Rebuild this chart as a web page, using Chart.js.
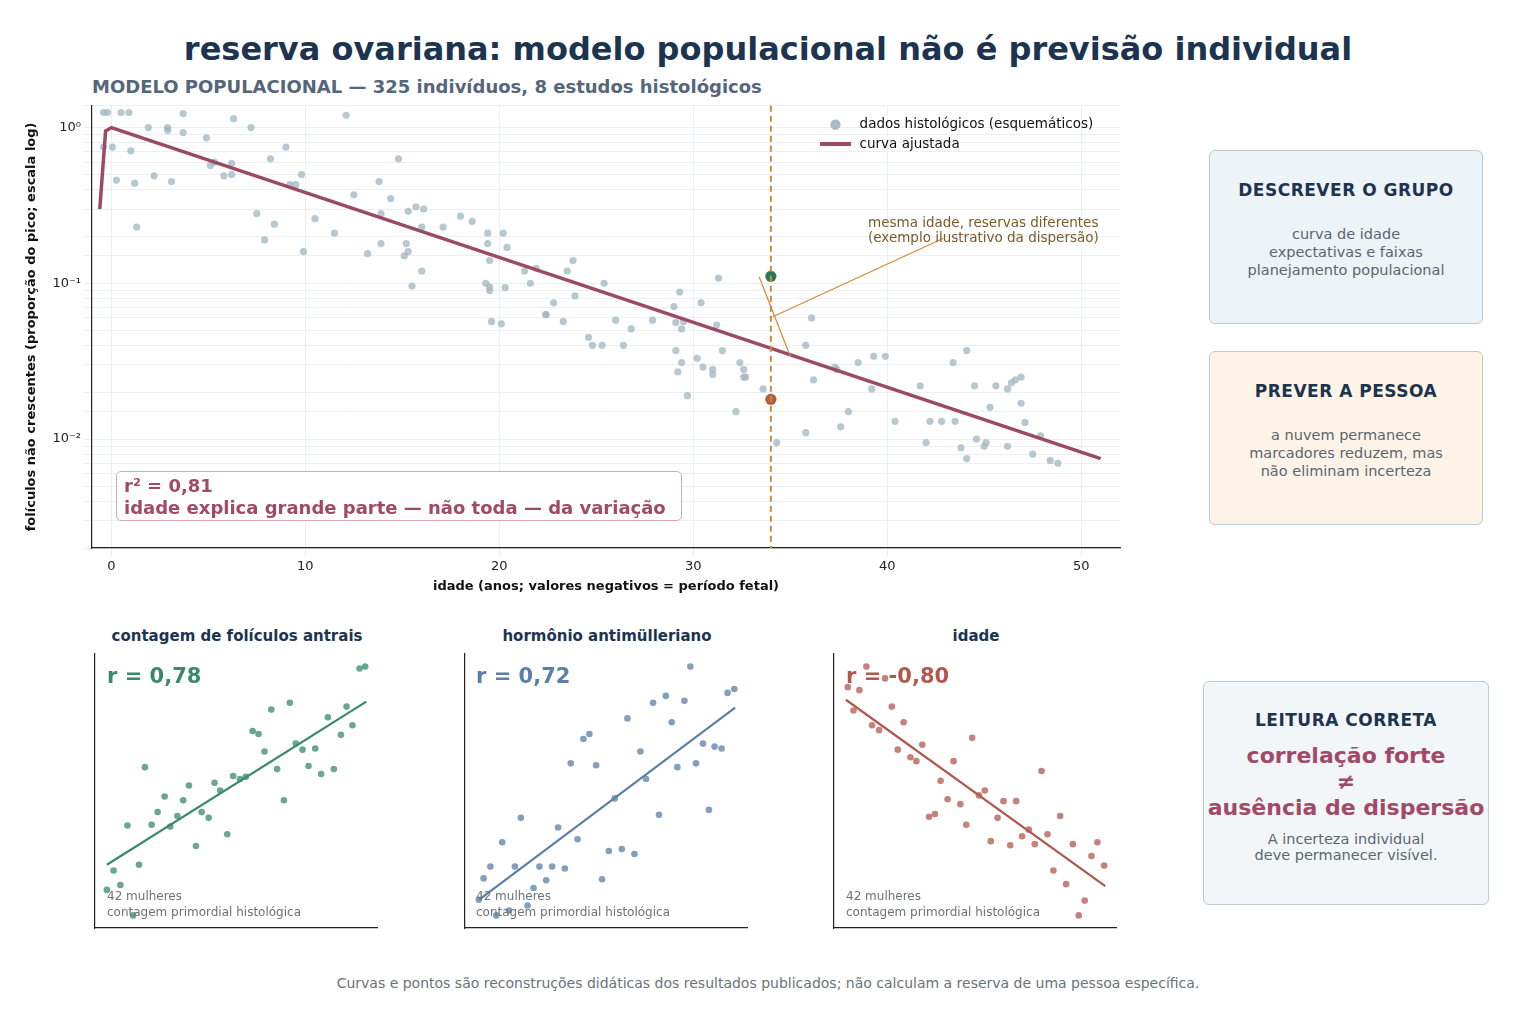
<!DOCTYPE html>
<html><head><meta charset="utf-8">
<script src="https://cdn.jsdelivr.net/npm/chart.js@4"></script>
<style>
body{margin:0;width:1536px;height:1024px;background:#fff;font-family:"DejaVu Sans",sans-serif;position:relative;overflow:hidden}
.abs{position:absolute}
.box{position:absolute;border:1.5px solid #bccbd0;border-radius:6px;text-align:center;color:#5a6670;font-size:14.5px;line-height:18px}
.box h3{margin:0;font-size:17px;color:#1c3450;letter-spacing:.5px}
.ptitle{position:absolute;font-weight:bold;font-size:15px;color:#1c3450;text-align:center;width:290px}
.pnote{position:absolute;font-size:12px;color:#6a7378;line-height:16px}
.rtxt{position:absolute;font-weight:bold;font-size:21px}
</style></head><body>
<div class="abs" style="left:0;width:1536px;top:30px;text-align:center;font-size:32px;font-weight:bold;color:#1c3450">reserva ovariana: modelo populacional não é previsão individual</div>
<div class="abs" style="left:92px;top:76px;font-size:18px;font-weight:bold;color:#55667a">MODELO POPULACIONAL — 325 indivíduos, 8 estudos histológicos</div>
<div class="abs" style="left:20px;top:95px;width:1110px;height:503px"><canvas id="main"></canvas></div>
<div class="abs" style="left:820px;top:113px;font-size:13.5px;color:#111;line-height:20px">
<div><span style="display:inline-block;width:31px;text-align:center;color:#a9bcc6">●</span> &nbsp;dados histológicos (esquemáticos)</div>
<div><span style="display:inline-block;width:31px;height:3.5px;background:#9c4a64;vertical-align:middle"></span> &nbsp;curva ajustada</div></div>
<div class="abs" style="left:868px;top:215px;font-size:13.5px;color:#7a5a2a;line-height:15px">mesma idade, reservas diferentes<br>(exemplo ilustrativo da dispersão)</div>
<div class="abs" style="left:116px;top:471px;width:566px;height:50px;border:1.5px solid #d9a8b8;border-radius:5px;background:rgba(255,255,255,.9);color:#a04a68;font-weight:bold;font-size:18px;line-height:22px;padding:3px 0 0 7px;box-sizing:border-box">r² = 0,81<br>idade explica grande parte — não toda — da variação</div>

<div class="box" style="left:1209px;top:150px;width:272px;height:172px;background:#eef3f8"><h3 style="margin-top:30px">DESCREVER O GRUPO</h3><div style="margin-top:26px">curva de idade<br>expectativas e faixas<br>planejamento populacional</div></div>
<div class="box" style="left:1209px;top:351px;width:272px;height:172px;background:#fdf3e6"><h3 style="margin-top:30px">PREVER A PESSOA</h3><div style="margin-top:26px">a nuvem permanece<br>marcadores reduzem, mas<br>não eliminam incerteza</div></div>
<div class="box" style="left:1203px;top:681px;width:284px;height:222px;background:#f3f6f8"><h3 style="margin-top:29px">LEITURA CORRETA</h3>
<div style="margin-top:14px;color:#a04a68;font-weight:bold;font-size:22px;line-height:26px">correlação forte<br>≠<br>ausência de dispersão</div>
<div style="margin-top:10px;line-height:16px">A incerteza individual<br>deve permanecer visível.</div></div>

<div class="ptitle" style="left:92px;top:627px">contagem de folículos antrais</div>
<div class="ptitle" style="left:462px;top:627px">hormônio antimülleriano</div>
<div class="ptitle" style="left:831px;top:627px">idade</div>
<div class="abs" style="left:91px;top:650px;width:290px;height:282px"><canvas id="p1"></canvas></div>
<div class="abs" style="left:461px;top:650px;width:290px;height:282px"><canvas id="p2"></canvas></div>
<div class="abs" style="left:830px;top:650px;width:290px;height:282px"><canvas id="p3"></canvas></div>
<div class="rtxt" style="left:107px;top:664px;color:#3a8a6a">r = 0,78</div>
<div class="rtxt" style="left:476px;top:664px;color:#5a7fa8">r = 0,72</div>
<div class="rtxt" style="left:846px;top:664px;color:#b0584e">r = -0,80</div>
<div class="pnote" style="left:107px;top:888px">42 mulheres<br>contagem primordial histológica</div>
<div class="pnote" style="left:476px;top:888px">42 mulheres<br>contagem primordial histológica</div>
<div class="pnote" style="left:846px;top:888px">42 mulheres<br>contagem primordial histológica</div>
<div class="abs" style="left:0;width:1536px;top:975px;text-align:center;font-size:14px;color:#6a7378">Curvas e pontos são reconstruções didáticas dos resultados publicados; não calculam a reserva de uma pessoa específica.</div>

<script>
// dados do painel principal (idade em anos, proporção do pico)
const ages = [-0.4,-0.2,0.5,0.9,-0.4,0.05,0.26,1.0,1.2,1.3,1.9,2.2,2.9,3.1,2.9,3.7,3.7,4.9,5.1,5.3,5.8,6.2,6.2,6.3,7.2,7.5,7.9,8.2,8.4,9.0,9.2,9.5,9.8,9.9,10.5,11.5,12.1,12.5,13.2,13.8,13.9,13.9,14.4,14.8,15.1,15.2,15.3,15.3,15.5,15.7,16.0,16.0,16.1,17.1,18.0,18.6,19.4,19.4,19.5,20.2,20.4,19.3,19.5,19.5,19.6,20.1,20.3,21.3,21.6,21.9,22.4,22.4,22.8,23.3,23.5,23.8,23.9,24.6,24.8,25.3,25.4,26.0,26.4,26.8,27.9,29.0,29.1,29.1,29.3,29.4,29.5,29.4,29.2,29.7,30.2,30.4,30.5,31.0,31.0,31.2,31.3,31.5,32.2,32.4,32.6,32.7,33.6,32.6,34.3,35.8,35.8,36.1,36.2,37.3,37.4,37.6,38.0,38.5,39.3,39.9,39.2,40.4,41.7,42.0,42.2,42.8,43.5,43.4,43.8,44.1,44.1,44.5,44.6,45.0,45.1,45.3,45.6,46.2,46.2,46.4,46.6,46.9,46.9,47.1,47.5,47.9,48.4,48.8];
const reserve = [1.25,1.25,1.25,1.25,0.75,0.75,0.46,0.71,0.44,0.23,1.0,0.49,1.0,0.45,0.96,0.93,1.23,0.86,0.57,0.6,0.49,0.59,0.5,1.14,1.0,0.28,0.19,0.63,0.24,0.75,0.43,0.43,0.5,0.16,0.26,0.21,1.2,0.37,0.155,0.45,0.28,0.18,0.35,0.63,0.15,0.18,0.29,0.16,0.096,0.31,0.23,0.12,0.3,0.23,0.27,0.25,0.18,0.21,0.14,0.21,0.17,0.1,0.09,0.095,0.057,0.055,0.094,0.12,0.1,0.125,0.063,0.063,0.075,0.057,0.12,0.14,0.083,0.045,0.04,0.04,0.1,0.058,0.04,0.051,0.058,0.071,0.056,0.037,0.088,0.051,0.057,0.031,0.027,0.019,0.033,0.075,0.029,0.028,0.026,0.054,0.108,0.037,0.015,0.031,0.025,0.025,0.021,0.028,0.0095,0.011,0.04,0.06,0.024,0.029,0.028,0.012,0.015,0.031,0.034,0.034,0.021,0.013,0.022,0.0095,0.013,0.013,0.013,0.031,0.0088,0.0075,0.037,0.022,0.01,0.009,0.0095,0.016,0.022,0.009,0.021,0.023,0.024,0.025,0.017,0.0128,0.008,0.0105,0.0073,0.007];
const curveAges = [-0.6,-0.3,0,51];
const curveVals = [0.3,0.95,1.0,0.0075];
const sameAge = 34;
const highLow = [0.111,0.018];
const xTicks = [0,10,20,30,40,50];
const yTickLabels = {'1':'10⁰','0.1':'10⁻¹','0.01':'10⁻²'};

// painéis de correlação (escala normalizada 0-100)
const afcX = [4.2,6.6,9,13.5,11.5,15.6,17.7,20.1,22.2,24.7,26.7,29.2,31.3,33.3,35.8,37.8,40.3,42.4,44.4,46.9,49,51.4,53.5,55.9,58,60.1,62.5,64.6,67,69.1,71.2,73.6,75.7,78.1,80.2,82.6,84.7,87.2,89.2,91.3,93.8,95.8];
const afcY = [13.9,21,15.7,4.6,37.4,23.1,58.7,37.7,42.3,48,37,40.9,46.6,52,29.9,42.3,40.2,53,50.2,34.2,55.5,54.4,55.2,71.9,70.8,64.4,79.7,58,46.6,82.2,67.3,65.1,59.1,65.5,56.2,76.9,58,70.5,80.8,74,94.7,95.4];
const afcFit = [[4.2,23.1],[96.2,82.6]];
const amhX = [6.6,9,11.1,13.2,15.6,17.7,19.8,22.2,24.3,26.4,28.8,30.9,33,35.4,37.5,39.9,42,44.1,46.5,48.6,51,53.1,55.6,57.6,60.1,62.2,64.2,66.7,68.8,71.2,73.3,75.3,77.8,79.9,81.9,84.4,86.5,88.5,91,93.1,95.5,4.9];
const amhY = [18.1,22.4,4.6,31.3,6.4,22.4,40.2,8.2,14.6,22.4,17.4,22.4,36.7,21.7,60.1,32.4,69,70.8,59.4,17.8,28.1,47.3,28.8,76.5,27,64.4,54.4,82.2,41.3,84.7,75.1,58.7,82.9,95.4,60.1,67.3,43.1,66.2,65.5,85.8,87.2,10.3];
const amhFit = [[4.9,10.3],[95.8,80.4]];
const ageX = [4.9,6.9,9,11.5,13.5,16,18.1,20.5,22.6,24.7,27.1,29.2,31.3,33.7,35.8,37.8,40.3,42.4,44.8,46.9,49,51.4,53.5,55.6,58,60.1,62.5,64.6,66.7,69.1,71.2,73.6,75.7,77.8,80.2,82.3,84.7,86.8,88.9,91.3,93.4,95.8];
const ageY = [87.9,79.4,86.8,95.4,74,72.2,91.1,80.8,65.1,75.1,62.3,60.9,66.9,40.6,41.6,53.7,47,60.9,45.2,37.7,69.4,48.4,50.2,31.7,40.2,46.3,30.2,46.3,33.5,35.9,30.6,57.3,34.2,21,40.9,16,30.6,4.6,10,26.3,31.3,22.8];
const ageFit = [[4.2,83.3],[96.2,15.3]];

Chart.defaults.font.family = '"DejaVu Sans", sans-serif';
Chart.defaults.animation = false;
const zip = (a, b) => a.map((v, i) => ({x: v, y: b[i]}));

const overlay = {
  id: 'overlay',
  afterDatasetsDraw(chart) {
    const {ctx, chartArea, scales: {x, y}} = chart;
    const px = x.getPixelForValue(sameAge);
    ctx.save();
    ctx.strokeStyle = '#d08a3a'; ctx.lineWidth = 2; ctx.setLineDash([6, 4]);
    ctx.beginPath(); ctx.moveTo(px, chartArea.top); ctx.lineTo(px, chartArea.bottom); ctx.stroke();
    ctx.setLineDash([]); ctx.lineWidth = 1.2;
    ctx.beginPath();
    ctx.moveTo(x.getPixelForValue(42.9), y.getPixelForValue(0.195));
    ctx.lineTo(x.getPixelForValue(34.1), y.getPixelForValue(0.061));
    ctx.moveTo(x.getPixelForValue(33.4), y.getPixelForValue(0.11));
    ctx.lineTo(x.getPixelForValue(35.0), y.getPixelForValue(0.034));
    ctx.stroke();
    ctx.restore();
  }
};

new Chart(document.getElementById('main'), {
  type: 'scatter',
  data: {datasets: [
    {data: zip(ages, reserve), backgroundColor: 'rgba(160,182,192,0.75)', borderWidth: 0, pointRadius: 3.6, order: 3},
    {data: zip(curveAges, curveVals), showLine: true, borderColor: '#9c4a64', borderWidth: 3.5, pointRadius: 0, order: 2},
    {data: [{x: sameAge, y: highLow[0]}], backgroundColor: '#2a7a5a', pointRadius: 5.5, order: 1},
    {data: [{x: sameAge, y: highLow[1]}], backgroundColor: '#b85a3a', pointRadius: 5.5, order: 1}
  ]},
  options: {
    responsive: true, maintainAspectRatio: false,
    layout: {padding: {top: 8, right: 10}},
    plugins: {legend: {display: false}, tooltip: {enabled: false}},
    scales: {
      x: {type: 'linear', min: -1, max: 52,
        afterBuildTicks: s => { s.ticks = xTicks.map(v => ({value: v})); },
        afterFit: s => { s.height = 50; },
        ticks: {color: '#222', font: {size: 13}},
        grid: {color: '#eceff1'}, border: {color: '#222', width: 1.2},
        title: {display: true, text: 'idade (anos; valores negativos = período fetal)', font: {size: 13, weight: 'bold'}, color: '#111'}},
      y: {type: 'logarithmic', min: 0.002, max: 1.38,
        afterFit: s => { s.width = 72; },
        ticks: {color: '#222', font: {size: 13}, autoSkip: false, callback: v => yTickLabels[String(v)] || ''},
        grid: {color: '#eceff1'}, border: {color: '#222', width: 1.2},
        title: {display: true, text: 'folículos não crescentes (proporção do pico; escala log)', font: {size: 13, weight: 'bold'}, color: '#111'}}
    }
  },
  plugins: [overlay]
});

function panel(id, xs, ys, fit, color, dot) {
  new Chart(document.getElementById(id), {
    type: 'scatter',
    data: {datasets: [
      {data: zip(xs, ys), backgroundColor: dot, borderWidth: 0, pointRadius: 3.3},
      {data: fit.map(p => ({x: p[0], y: p[1]})), showLine: true, borderColor: color, borderWidth: 2.2, pointRadius: 0}
    ]},
    options: {
      responsive: true, maintainAspectRatio: false, layout: {padding: 0},
      plugins: {legend: {display: false}, tooltip: {enabled: false}},
      scales: {
        x: {min: 0, max: 100, ticks: {display: false}, grid: {display: false}, border: {color: '#222', width: 1.2}, afterFit: s => { s.height = 1; }},
        y: {min: 0, max: 100, ticks: {display: false}, grid: {display: false}, border: {color: '#222', width: 1.2}, afterFit: s => { s.width = 1; }}
      }
    }
  });
}
panel('p1', afcX, afcY, afcFit, '#3a8a6a', 'rgba(58,138,106,0.75)');
panel('p2', amhX, amhY, amhFit, '#5a7fa8', 'rgba(90,127,168,0.75)');
panel('p3', ageX, ageY, ageFit, '#b0584e', 'rgba(176,88,78,0.75)');
</script>
</body></html>
